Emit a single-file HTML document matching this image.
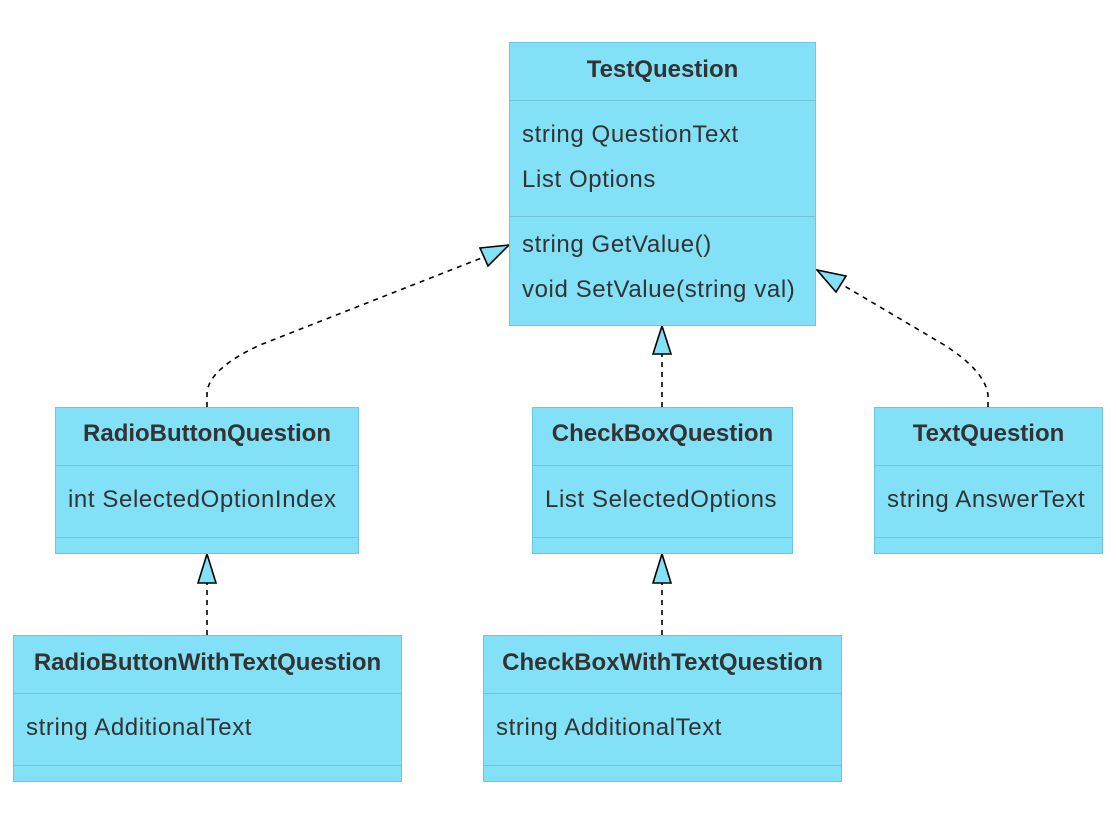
<!DOCTYPE html>
<html><head><meta charset="utf-8"><style>
html,body{margin:0;padding:0;background:#fff;width:1116px;height:825px;overflow:hidden;font-family:"Liberation Sans",sans-serif;}
.b{position:absolute;background:#82e1f7;border:1.5px solid #6fc6d8;box-sizing:border-box;color:#333;font-size:24px;line-height:28px;}
.t{position:absolute;left:0;right:0;text-align:center;font-weight:bold;font-size:24px;}
.l{position:absolute;left:12px;white-space:nowrap;letter-spacing:0.6px;}
.d{position:absolute;left:0;right:0;height:0;border-top:1.5px solid #6fc6d8;}
</style></head><body>
<svg width="1116" height="825" style="position:absolute;left:0;top:0">
<g fill="none" stroke="#000" stroke-width="1.6" stroke-dasharray="5,5">
<path d="M207,407 L207,392 Q210,368 260,345 L484,257"/>
<path d="M988,407 L988,395 Q985,370 941,343 L841,284"/>
<path d="M662,407 L662,354"/>
<path d="M207,635 L207,583"/>
<path d="M662,635 L662,583"/>
</g>
<g fill="#82e1f7" stroke="#000" stroke-width="1.6">
<polygon points="509,245 488,266 480,248"/>
<polygon points="817,270 836,292 846,276"/>
<polygon points="662,326 653,354 671,354"/>
<polygon points="207,554 198,583 216,583"/>
<polygon points="662,554 653,583 671,583"/>
</g>
</svg>

<div class="b" style="left:509px;top:42px;width:307px;height:284px">
<div class="t" style="top:13px">TestQuestion</div>
<div class="d" style="top:57px"></div>
<div class="l" style="top:78px">string QuestionText</div>
<div class="l" style="top:123px">List Options</div>
<div class="d" style="top:173px"></div>
<div class="l" style="top:188px">string GetValue()</div>
<div class="l" style="top:233px">void SetValue(string val)</div>
</div>

<div class="b" style="left:55px;top:407px;width:304px;height:147px">
<div class="t" style="top:12px">RadioButtonQuestion</div>
<div class="d" style="top:57px"></div>
<div class="l" style="top:78px">int SelectedOptionIndex</div>
<div class="d" style="top:129px"></div>
</div>

<div class="b" style="left:532px;top:407px;width:261px;height:147px">
<div class="t" style="top:12px">CheckBoxQuestion</div>
<div class="d" style="top:57px"></div>
<div class="l" style="top:78px">List SelectedOptions</div>
<div class="d" style="top:129px"></div>
</div>

<div class="b" style="left:874px;top:407px;width:229px;height:147px">
<div class="t" style="top:12px">TextQuestion</div>
<div class="d" style="top:57px"></div>
<div class="l" style="top:78px">string AnswerText</div>
<div class="d" style="top:129px"></div>
</div>

<div class="b" style="left:13px;top:635px;width:389px;height:147px">
<div class="t" style="top:13px">RadioButtonWithTextQuestion</div>
<div class="d" style="top:57px"></div>
<div class="l" style="top:78px">string AdditionalText</div>
<div class="d" style="top:129px"></div>
</div>

<div class="b" style="left:483px;top:635px;width:359px;height:147px">
<div class="t" style="top:13px">CheckBoxWithTextQuestion</div>
<div class="d" style="top:57px"></div>
<div class="l" style="top:78px">string AdditionalText</div>
<div class="d" style="top:129px"></div>
</div>
</body></html>
